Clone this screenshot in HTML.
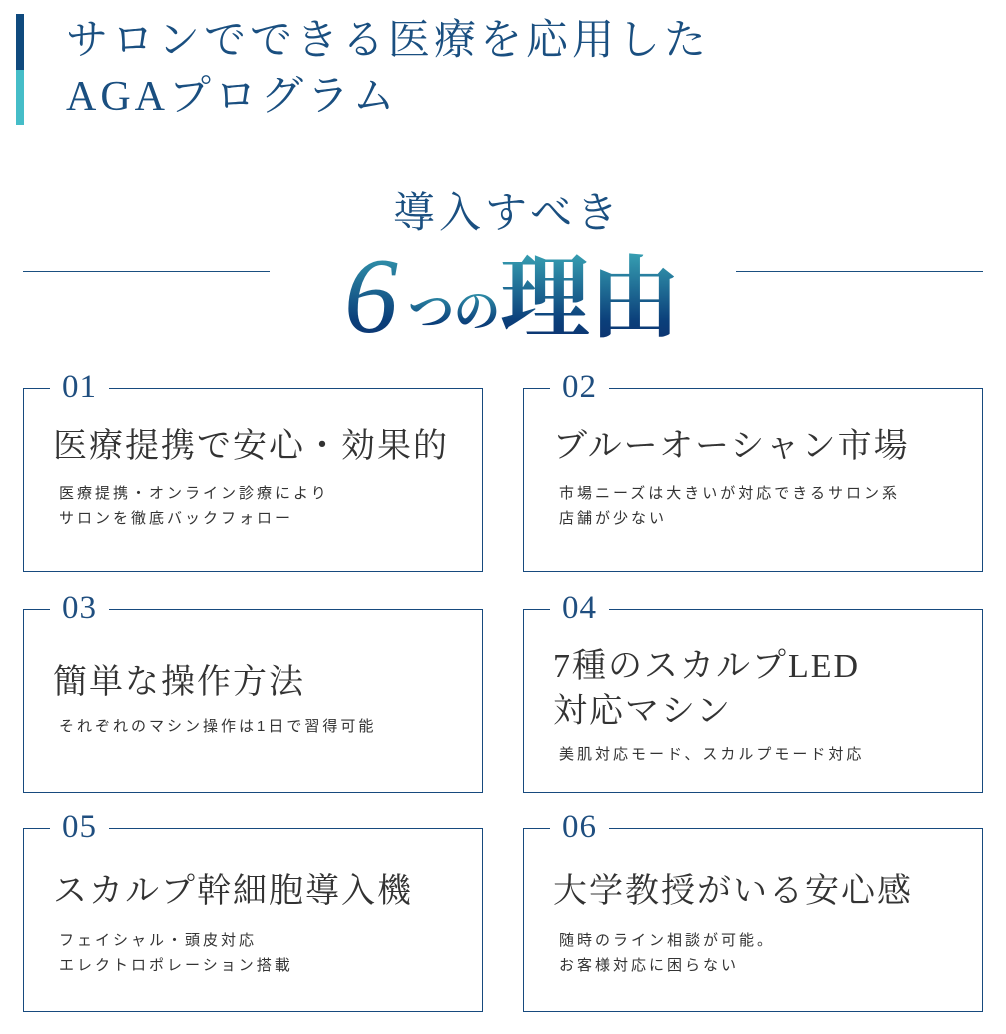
<!DOCTYPE html>
<html><head><meta charset="utf-8"><style>
body{margin:0;width:1006px;height:1034px;background:#fff;position:relative;overflow:hidden}
.a{position:absolute;white-space:nowrap}
.serif{font-family:"Liberation Serif","Noto Serif CJK SC",serif}
.sans{font-family:"Liberation Sans","Noto Sans CJK JP",sans-serif}
.box{position:absolute;width:458px;height:182px;border:1px solid #174a7e}
.num{position:absolute;left:26px;top:-24px;background:#fff;padding:0 12px;font-family:"Liberation Serif",serif;font-size:33px;line-height:44px;color:#1f4e7f;letter-spacing:1px}
.h{position:absolute;left:29px;font-family:"Liberation Serif","Noto Serif CJK SC",serif;font-size:34px;line-height:45px;color:#333;white-space:nowrap;letter-spacing:2px}
.s{position:absolute;left:35px;font-family:"Liberation Sans","Noto Sans CJK JP",sans-serif;font-size:15px;line-height:25px;color:#333;letter-spacing:3px;white-space:nowrap}
.grad{background:linear-gradient(#3aa6b6,#0b3f7a 70%,#0d2e6b);-webkit-background-clip:text;background-clip:text;color:transparent}
</style></head><body>
<div class="a" style="left:16px;top:14px;width:8px;height:56px;background:#0f4a7e"></div>
<div class="a" style="left:16px;top:70px;width:8px;height:55px;background:#45bdc8"></div>
<div class="a serif" style="left:66px;top:13px;font-size:42px;line-height:56px;color:#1a4f80;letter-spacing:4px">サロンでできる医療を応用した<br>AGAプログラム</div>
<div class="a serif" style="left:393px;top:188px;font-size:42px;line-height:52px;color:#1a4f80;letter-spacing:4px">導入すべき</div>
<div class="a" style="left:23px;top:271px;width:247px;height:1px;background:#1a4f80"></div>
<div class="a" style="left:736px;top:271px;width:247px;height:1px;background:#1a4f80"></div>
<div class="a serif grad" style="left:344px;top:240px;font-size:108px;line-height:114px;font-style:italic">6</div>
<div class="a serif grad" style="left:408px;top:284px;font-size:46px;line-height:56px;font-weight:bold">つの</div>
<div class="a serif grad" style="left:500px;top:248px;font-size:90px;line-height:104px;font-weight:bold">理由</div>

<div class="box" style="left:23px;top:388px"><div class="num">01</div>
<div class="h" style="top:35px">医療提携で安心・効果的</div>
<div class="s" style="top:92px">医療提携・オンライン診療により<br>サロンを徹底バックフォロー</div></div>

<div class="box" style="left:523px;top:388px"><div class="num">02</div>
<div class="h" style="top:35px">ブルーオーシャン市場</div>
<div class="s" style="top:92px">市場ニーズは大きいが対応できるサロン系<br>店舗が少ない</div></div>

<div class="box" style="left:23px;top:609px"><div class="num">03</div>
<div class="h" style="top:50px">簡単な操作方法</div>
<div class="s" style="top:104px">それぞれのマシン操作は1日で習得可能</div></div>

<div class="box" style="left:523px;top:609px"><div class="num">04</div>
<div class="h" style="top:34px">7種のスカルプLED<br>対応マシン</div>
<div class="s" style="top:132px">美肌対応モード、スカルプモード対応</div></div>

<div class="box" style="left:23px;top:828px"><div class="num">05</div>
<div class="h" style="top:40px">スカルプ幹細胞導入機</div>
<div class="s" style="top:99px">フェイシャル・頭皮対応<br>エレクトロポレーション搭載</div></div>

<div class="box" style="left:523px;top:828px"><div class="num">06</div>
<div class="h" style="top:40px">大学教授がいる安心感</div>
<div class="s" style="top:99px">随時のライン相談が可能。<br>お客様対応に困らない</div></div>
</body></html>
